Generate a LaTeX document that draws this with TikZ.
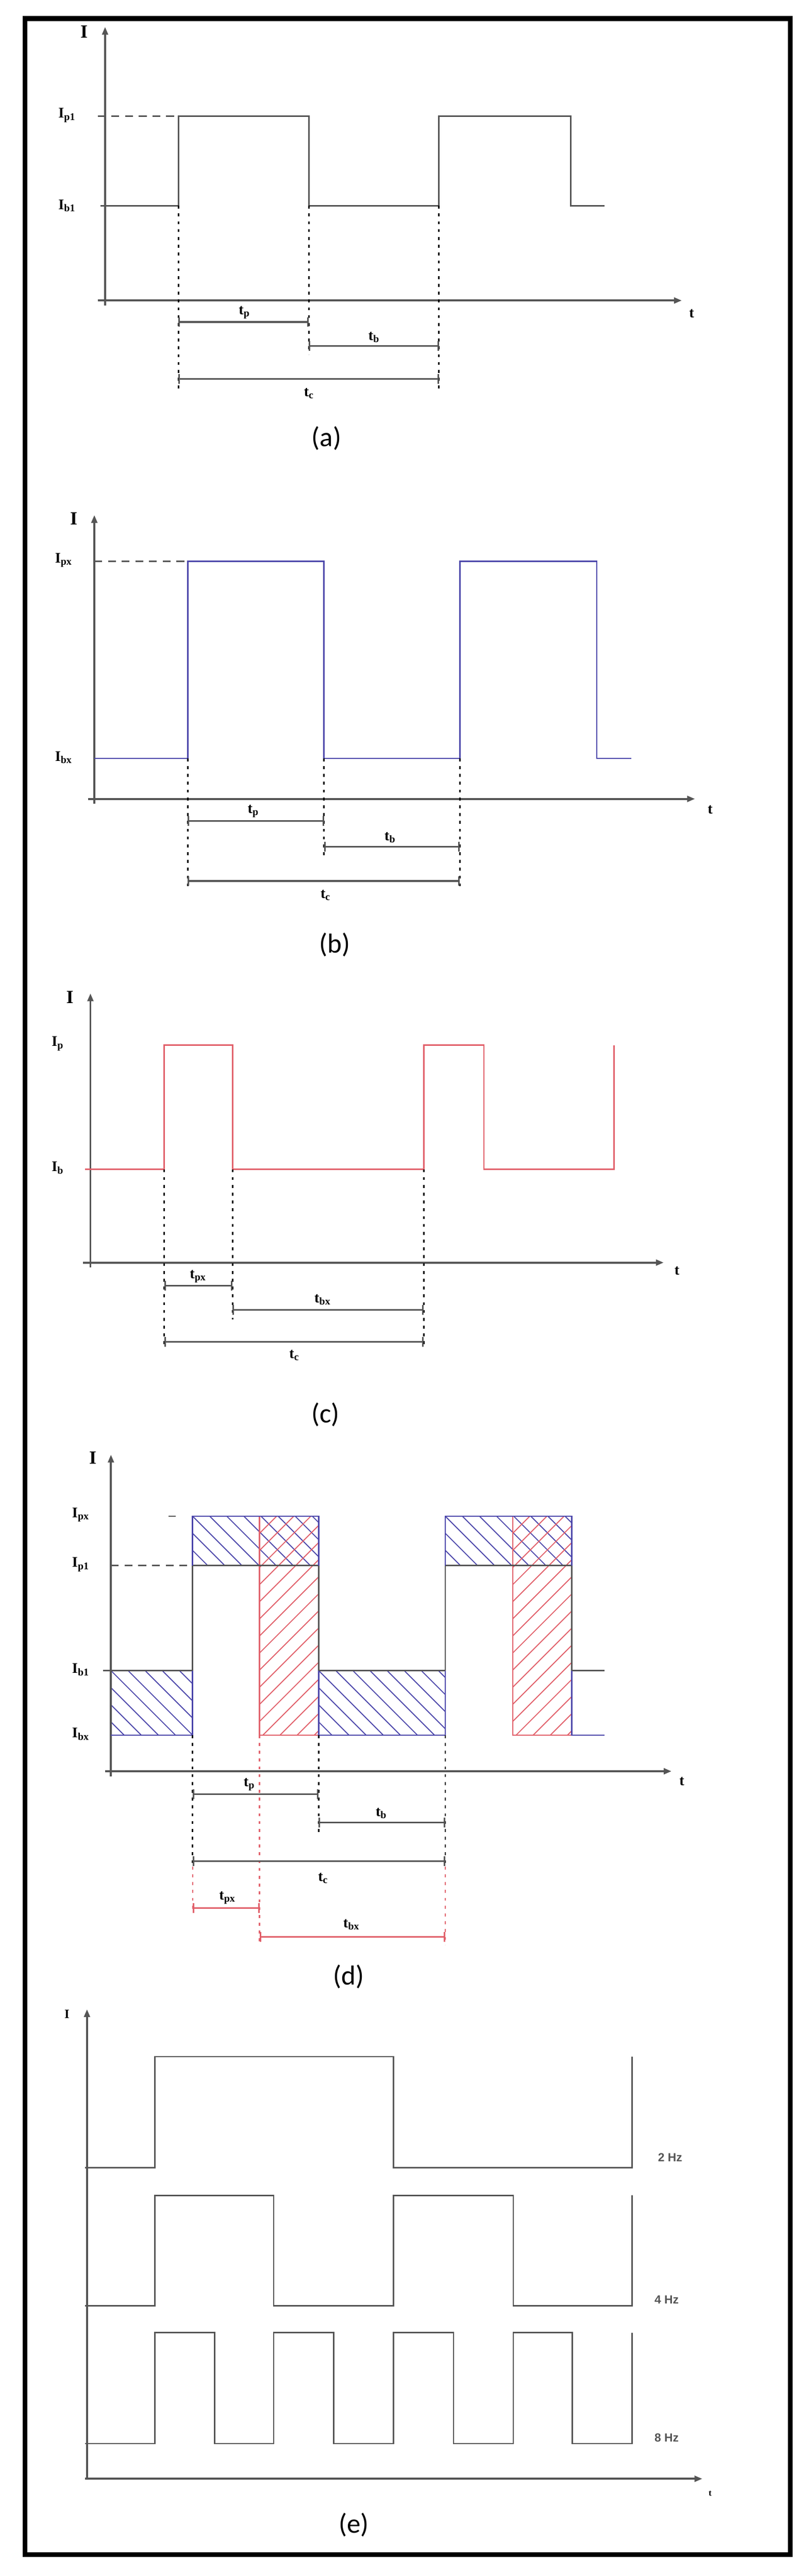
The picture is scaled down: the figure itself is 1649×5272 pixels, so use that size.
\documentclass[tikz,border=0pt]{standalone}
\usepackage{fontspec}
\setmainfont{Liberation Serif}
\newfontfamily\capfont{Carlito}
\newfontfamily\hzfont{Liberation Sans}
\usetikzlibrary{arrows.meta}
\definecolor{gr}{RGB}{85,85,85}
\definecolor{bl}{RGB}{75,70,170}
\definecolor{rd}{RGB}{225,95,105}
\tikzset{
 ax/.style={gr,line width=2pt,-{Triangle[length=8pt,width=6pt]}},
 wv/.style={gr,line width=1.4pt},
 dt/.style={black,line width=1.4pt,dash pattern=on 3pt off 5pt},
 dsh/.style={gr,line width=1.4pt,dash pattern=on 8pt off 6pt},
 br/.style={gr,line width=1.6pt,{Bar[width=10pt]}-{Bar[width=10pt]}},
 lb/.style={font=\bfseries\fontsize{15}{15}\selectfont},
 axl/.style={font=\bfseries\fontsize{19}{19}\selectfont},
 capt/.style={font=\capfont\fontsize{28}{28}\selectfont},
 hz/.style={font=\hzfont\bfseries\fontsize{12}{12}\selectfont,gr},
}
\newcommand\myhatch[6]{\begin{scope}\clip (#1,#2) rectangle (#3,#4);
 \foreach \s in {-700,-665,...,1000} \draw[#6,line width=1pt] ({#1+\s},#2) -- ++({#5*600},600);
 \end{scope}}
\begin{document}
\begin{tikzpicture}[x=0.5pt,y=-0.5pt]
\useasboundingbox (0,0) rectangle (1649,5272);
\fill[white] (0,0) rectangle (1649,5272);
\draw[line width=5pt] (51,38) rectangle (1617,5228);
% ---------- (a)
\draw[ax] (215,625) -- (215,55);
\draw[ax] (200,615) -- (1395,615);
\node[axl] (aI) at (172,65) {I};
\node[lb] (at) at (1415,642) {t};
\node[lb] (aIp) at (137,236) {I\textsubscript{p1}};
\node[lb] (aIb) at (137,421) {I\textsubscript{b1}};
\draw[dsh] (200,238) -- (365,238);
\draw[wv] (206,421) -- (365,421) -- (365,238) -- (632,238) -- (632,421) -- (898,421) -- (898,238) -- (1168,238) -- (1168,421) -- (1237,421);
\draw[dt] (365,421) -- (365,795); \draw[dt] (632,421) -- (632,725); \draw[dt] (898,421) -- (898,795);
\draw[br] (365,659) -- (632,659); \node[lb] (atp) at (500,640) {t\textsubscript{p}};
\draw[br] (632,708) -- (898,708); \node[lb] (atb) at (765,690) {t\textsubscript{b}};
\draw[br] (365,776) -- (898,776); \node[lb] (atc) at (632,805) {t\textsubscript{c}};
\node[capt] (capa) at (668,897) {(a)};
% ---------- (b)
\draw[ax] (193,1645) -- (193,1054);
\draw[ax] (180,1635) -- (1422,1635);
\node[axl] (bI) at (151,1061) {I};
\node[lb] (bt) at (1453,1657) {t};
\node[lb] (bIp) at (130,1146) {I\textsubscript{px}};
\node[lb] (bIb) at (130,1550) {I\textsubscript{bx}};
\draw[dsh] (193,1149) -- (384,1149);
\draw[bl,line width=1.4pt] (193,1552) -- (384,1552) -- (384,1149) -- (663,1149) -- (663,1552) -- (941,1552) -- (941,1149) -- (1221,1149) -- (1221,1552) -- (1292,1552);
\draw[dt] (384,1552) -- (384,1820); \draw[dt] (663,1552) -- (663,1750); \draw[dt] (941,1552) -- (941,1820);
\draw[br] (384,1680) -- (663,1680); \node[lb] (btp) at (518,1660) {t\textsubscript{p}};
\draw[br] (663,1733) -- (941,1733); \node[lb] (btb) at (798,1714) {t\textsubscript{b}};
\draw[br] (384,1803) -- (941,1803); \node[lb] (btc) at (666,1832) {t\textsubscript{c}};
\node[capt] (capb) at (685,1933) {(b)};
% ---------- (c)
\draw[ax] (185,2594) -- (185,2033);
\draw[ax] (170,2584) -- (1358,2584);
\node[axl] (cI) at (143,2041) {I};
\node[lb] (ct) at (1385,2601) {t};
\node[lb] (cIp) at (118,2136) {I\textsubscript{p}};
\node[lb] (cIb) at (118,2390) {I\textsubscript{b}};
\draw[rd,line width=1.4pt] (174,2393) -- (336,2393) -- (336,2139) -- (476,2139) -- (476,2393) -- (867,2393) -- (867,2139) -- (990,2139) -- (990,2393) -- (1256,2393) -- (1256,2139);
\draw[dt] (336,2393) -- (336,2760); \draw[dt] (476,2393) -- (476,2700); \draw[dt] (867,2393) -- (867,2760);
\draw[br] (336,2631) -- (476,2631); \node[lb] (ctpx) at (405,2612) {t\textsubscript{px}};
\draw[br] (476,2681) -- (867,2681); \node[lb] (ctbx) at (660,2660) {t\textsubscript{bx}};
\draw[br] (336,2746) -- (867,2746); \node[lb] (ctc) at (602,2774) {t\textsubscript{c}};
\node[capt] (capc) at (666,2895) {(c)};
% ---------- (d)
\myhatch{227}{3419}{394}{3551}{1}{bl}
\myhatch{652}{3419}{911}{3551}{1}{bl}
\myhatch{394}{3103}{652}{3204}{1}{bl}
\myhatch{911}{3103}{1170}{3204}{1}{bl}
\myhatch{531}{3103}{652}{3551}{-1}{rd}
\myhatch{1049}{3103}{1170}{3551}{-1}{rd}
\draw[ax] (227,3635) -- (227,2977);
\draw[ax] (215,3625) -- (1374,3625);
\node[axl] (dI) at (190,2984) {I};
\node[lb] (dt) at (1395,3646) {t};
\node[lb] (dIpx) at (165,3100) {I\textsubscript{px}};
\node[lb] (dIp) at (165,3202) {I\textsubscript{p1}};
\node[lb] (dIb) at (165,3417) {I\textsubscript{b1}};
\node[lb] (dIbx) at (165,3549) {I\textsubscript{bx}};
\draw[gr,line width=1.4pt] (345,3103) -- (360,3103);
\draw[dsh] (227,3204) -- (394,3204);
\draw[rd,line width=1.4pt] (531,3204) -- (531,3551) -- (652,3551);
\draw[rd,line width=1.4pt] (1049,3204) -- (1049,3551) -- (1170,3551);
\draw[rd,line width=1.2pt] (531,3103) -- (531,3204); \draw[rd,line width=1.2pt] (1049,3103) -- (1049,3204);
\draw[wv] (211,3419) -- (394,3419) -- (394,3204) -- (652,3204) -- (652,3419) -- (911,3419) -- (911,3204) -- (1170,3204) -- (1170,3419) -- (1237,3419);
\draw[bl,line width=1.4pt] (227,3551) -- (394,3551) -- (394,3419);
\draw[bl,line width=1.4pt] (394,3204) -- (394,3103) -- (652,3103) -- (652,3204);
\draw[bl,line width=1.4pt] (652,3419) -- (652,3551) -- (911,3551) -- (911,3419);
\draw[bl,line width=1.4pt] (911,3204) -- (911,3103) -- (1170,3103) -- (1170,3204);
\draw[bl,line width=1.4pt] (1170,3419) -- (1170,3551) -- (1237,3551);
\draw[dt] (394,3551) -- (394,3820); \draw[dt] (652,3551) -- (652,3750); \draw[dt] (911,3551) -- (911,3820);
\draw[rd,line width=1.2pt,dash pattern=on 3pt off 5pt] (531,3551) -- (531,3980);
\draw[rd,line width=1.2pt,dash pattern=on 3pt off 5pt] (394,3820) -- (394,3915);
\draw[rd,line width=1.2pt,dash pattern=on 3pt off 5pt] (911,3820) -- (911,3980);
\draw[br] (394,3672) -- (652,3672); \node[lb] (dtp) at (510,3652) {t\textsubscript{p}};
\draw[br] (652,3730) -- (911,3730); \node[lb] (dtb) at (780,3711) {t\textsubscript{b}};
\draw[br] (394,3809) -- (911,3809); \node[lb] (dtc) at (661,3844) {t\textsubscript{c}};
\draw[br,rd] (394,3905) -- (531,3905); \node[lb] (dtpx) at (465,3884) {t\textsubscript{px}};
\draw[br,rd] (531,3964) -- (911,3964); \node[lb] (dtbx) at (719,3939) {t\textsubscript{bx}};
\node[capt] (capd) at (713,4045) {(d)};
% ---------- (e)
\draw[ax] (178,5073) -- (178,4112);
\draw[ax] (174,5073) -- (1437,5073);
\node[font=\bfseries\fontsize{13}{13}\selectfont] (eI) at (137,4122) {I};
\node[font=\bfseries\fontsize{9}{9}\selectfont] (et) at (1453,5103) {t};
\draw[wv] (174,4436) -- (317,4436) -- (317,4209) -- (805,4209) -- (805,4436) -- (1293,4436) -- (1293,4209);
\draw[wv] (174,4719) -- (317,4719) -- (317,4493) -- (560,4493) -- (560,4719) -- (805,4719) -- (805,4493) -- (1050,4493) -- (1050,4719) -- (1293,4719) -- (1293,4493);
\draw[wv] (174,5001) -- (317,5001) -- (317,4774) -- (439,4774) -- (439,5001) -- (560,5001) -- (560,4774) -- (683,4774) -- (683,5001) -- (805,5001) -- (805,4774) -- (928,4774) -- (928,5001) -- (1050,5001) -- (1050,4774) -- (1171,4774) -- (1171,5001) -- (1293,5001) -- (1293,4774);
\node[hz] (e2) at (1371,4415) {2 Hz};
\node[hz] (e4) at (1364,4706) {4 Hz};
\node[hz] (e8) at (1364,4989) {8 Hz};
\node[capt] (cape) at (724,5167) {(e)};
\end{tikzpicture}
\end{document}
